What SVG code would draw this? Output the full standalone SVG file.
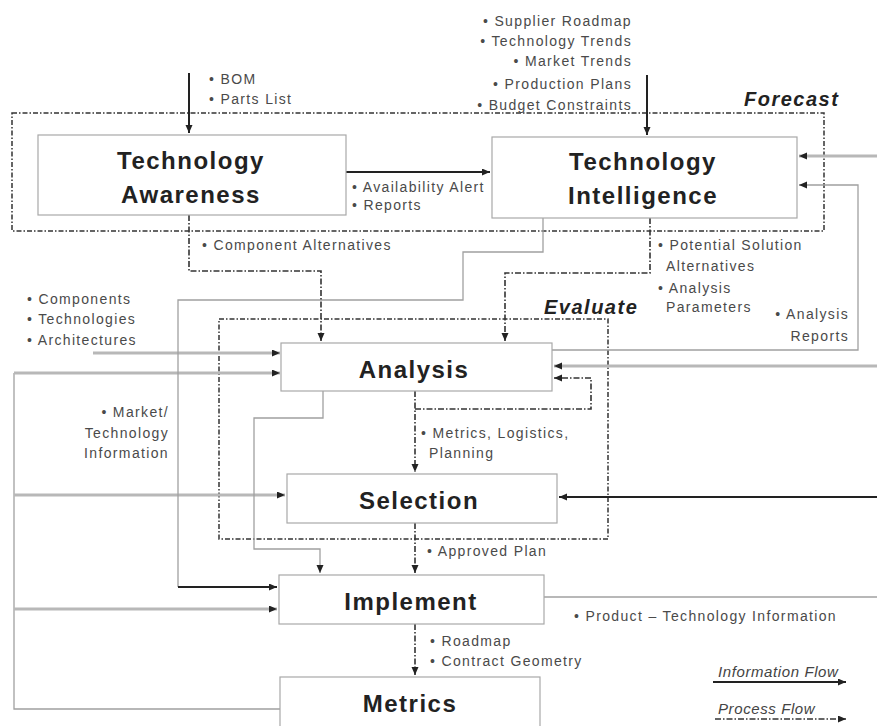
<svg xmlns="http://www.w3.org/2000/svg" width="877" height="726" viewBox="0 0 877 726">
  <style>
    .node { fill: #ffffff; stroke: #a8a8a8; stroke-width: 1.2; }
    .group { fill: none; stroke: #333333; stroke-width: 1.5; stroke-dasharray: 5 2 1.5 2; }
    .title { font-family: "Liberation Sans", Arial, sans-serif; font-weight: bold; font-size: 24px; letter-spacing: 1.5px; fill: #222222; text-anchor: middle; }
    .lbl { font-family: "Liberation Sans", Arial, sans-serif; font-size: 14px; letter-spacing: 1.35px; fill: #4a4a4a; }
    .end { text-anchor: end; }
    .gname { font-family: "Liberation Sans", Arial, sans-serif; font-weight: bold; font-style: italic; font-size: 20px; letter-spacing: 1.5px; fill: #222222; }
    .leg { font-family: "Liberation Sans", Arial, sans-serif; font-style: italic; font-size: 15px; letter-spacing: 0.6px; fill: #444444; }
    .info { fill: none; stroke: #222222; stroke-width: 2; }
    .wide { fill: none; stroke: #b8b8b8; stroke-width: 3; }
    .thin { fill: none; stroke: #a0a0a0; stroke-width: 1.3; }
    .proc { fill: none; stroke: #333333; stroke-width: 1.6; stroke-dasharray: 6 2 1.5 2; }
  </style>
  <defs>
    <marker id="ah" markerUnits="userSpaceOnUse" markerWidth="10" markerHeight="10" refX="8" refY="3.5" orient="auto">
      <path d="M0 0 L8 3.5 L0 7 Z" fill="#222222"/>
    </marker>
  </defs>

  <rect width="877" height="726" fill="#ffffff"/>

  <!-- grouping frames -->
  <g id="forecast">
    <rect class="group" x="12" y="113" width="812" height="118"/>
    <text class="gname" x="744" y="106">Forecast</text>
  </g>
  <g id="evaluate">
    <rect class="group" x="219" y="319" width="389" height="220"/>
    <text class="gname" x="544" y="314">Evaluate</text>
  </g>

  <!-- connectors -->
  <g id="connectors">
    <!-- information flows -->
    <path class="info" d="M189 73 V133" marker-end="url(#ah)"/>
    <path class="info" d="M647 75 V135" marker-end="url(#ah)"/>
    <path class="info" d="M346 172 H490" marker-end="url(#ah)"/>
    <path class="info" d="M877 497 H559" stroke-width="2.6" marker-end="url(#ah)"/>

    <path class="wide" d="M877 156 H799" marker-end="url(#ah)"/>
    <path class="thin" d="M552 350 H858 V185 H799" marker-end="url(#ah)"/>
    <path class="wide" d="M877 366 H554" marker-end="url(#ah)"/>

    <path class="wide" d="M93 353 H280" marker-end="url(#ah)"/>
    <path class="thin" d="M280 709 H14 V373"/>
    <path class="wide" d="M14 373 H280" marker-end="url(#ah)"/>
    <path class="wide" d="M14 495 H285" marker-end="url(#ah)"/>
    <path class="wide" d="M14 609 H277" marker-end="url(#ah)"/>

    <path class="thin" d="M543 218 V252 H463 V300 H178 V587"/>
    <path class="info" d="M178 587 H277" marker-end="url(#ah)"/>
    <path class="thin" d="M323 391 V418 H254 V549 H320 V573" marker-end="url(#ah)"/>
    <path class="thin" d="M544 597 H877"/>

    <!-- process flows -->
    <path class="proc" d="M189 215 V271 H321 V341" marker-end="url(#ah)"/>
    <path class="proc" d="M650 218 V273 H505 V341" marker-end="url(#ah)"/>
    <path class="proc" d="M415 391 V472" marker-end="url(#ah)"/>
    <path class="proc" d="M415 409 H591 V378 H554" marker-end="url(#ah)"/>
    <path class="proc" d="M415 523 V573" marker-end="url(#ah)"/>
    <path class="proc" d="M415 624 V675" marker-end="url(#ah)"/>
  </g>

  <!-- nodes -->
  <g id="technology-awareness">
    <rect class="node" x="38" y="135" width="308" height="80"/>
    <text class="title" x="191" y="169">Technology</text>
    <text class="title" x="191" y="203">Awareness</text>
  </g>
  <g id="technology-intelligence">
    <rect class="node" x="492" y="137" width="305" height="81"/>
    <text class="title" x="643" y="170">Technology</text>
    <text class="title" x="643" y="204">Intelligence</text>
  </g>
  <g id="analysis">
    <rect class="node" x="281" y="343" width="271" height="48"/>
    <text class="title" x="414" y="378">Analysis</text>
  </g>
  <g id="selection">
    <rect class="node" x="287" y="474" width="270" height="49"/>
    <text class="title" x="419" y="509">Selection</text>
  </g>
  <g id="implement">
    <rect class="node" x="279" y="575" width="265" height="49"/>
    <text class="title" x="411" y="610">Implement</text>
  </g>
  <g id="metrics">
    <rect class="node" x="280" y="677" width="260" height="60"/>
    <text class="title" x="410" y="712">Metrics</text>
  </g>

  <!-- flow labels -->
  <g id="labels">
    <text class="lbl" x="209" y="84">• BOM</text>
    <text class="lbl" x="209" y="104">• Parts List</text>

    <text class="lbl end" x="632" y="26">• Supplier Roadmap</text>
    <text class="lbl end" x="632" y="46">• Technology Trends</text>
    <text class="lbl end" x="632" y="66">• Market Trends</text>
    <text class="lbl end" x="632" y="89">• Production Plans</text>
    <text class="lbl end" x="632" y="110">• Budget Constraints</text>

    <text class="lbl" x="352" y="192">• Availability Alert</text>
    <text class="lbl" x="352" y="210">• Reports</text>

    <text class="lbl" x="202" y="250">• Component Alternatives</text>

    <text class="lbl" x="658" y="250">• Potential Solution</text>
    <text class="lbl" x="666" y="271">Alternatives</text>
    <text class="lbl" x="658" y="293">• Analysis</text>
    <text class="lbl" x="666" y="312">Parameters</text>

    <text class="lbl end" x="849" y="319">• Analysis</text>
    <text class="lbl end" x="849" y="341">Reports</text>

    <text class="lbl" x="27" y="304">• Components</text>
    <text class="lbl" x="27" y="324">• Technologies</text>
    <text class="lbl" x="27" y="345">• Architectures</text>

    <text class="lbl end" x="169" y="417">• Market/</text>
    <text class="lbl end" x="169" y="438">Technology</text>
    <text class="lbl end" x="169" y="458">Information</text>

    <text class="lbl" x="421" y="438">• Metrics, Logistics,</text>
    <text class="lbl" x="429" y="458">Planning</text>

    <text class="lbl" x="427" y="556">• Approved Plan</text>

    <text class="lbl" x="574" y="621">• Product – Technology Information</text>

    <text class="lbl" x="430" y="646">• Roadmap</text>
    <text class="lbl" x="430" y="666">• Contract Geometry</text>
  </g>

  <!-- legend -->
  <g id="legend">
    <text class="leg" x="718" y="677">Information Flow</text>
    <path class="info" d="M713 682 H846" stroke-width="2.4" marker-end="url(#ah)"/>
    <text class="leg" x="718" y="714">Process Flow</text>
    <path class="proc" d="M715 719 H846" marker-end="url(#ah)"/>
  </g>
</svg>
